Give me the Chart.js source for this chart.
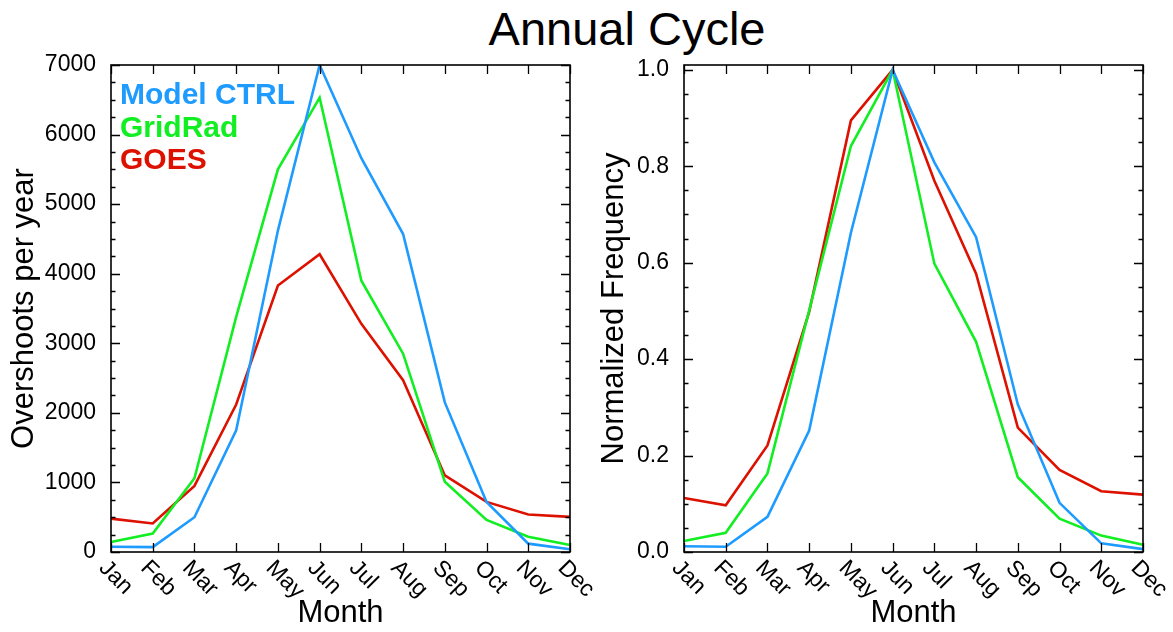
<!DOCTYPE html>
<html>
<head>
<meta charset="utf-8">
<script src="https://cdn.jsdelivr.net/npm/chart.js@4.4.1/dist/chart.umd.min.js"></script>
<style>
  body { margin: 0; background: #fff; width: 1173px; height: 632px; overflow: hidden; position: relative; font-family: "Liberation Sans", Arial, Helvetica, sans-serif; }
  #title { position: absolute; left: 427px; width: 400px; top: 4px; line-height: 50px; text-align: center; font-size: 47px; color: #000; }
  canvas { position: absolute; top: 0; }
  #left { left: 0; }
  #right { left: 590px; }
</style>
</head>
<body>
<div id="title">Annual Cycle</div>
<canvas id="left" width="600" height="632"></canvas>
<canvas id="right" width="583" height="632"></canvas>
<script>
// ==== datos ====
const months = ["Jan", "Feb", "Mar", "Apr", "May", "Jun", "Jul", "Aug", "Sep", "Oct", "Nov", "Dec"];
const seriesNames = ["Model CTRL", "GridRad", "GOES"];

// overshoots per year
const ctrlCounts    = [75, 70, 500, 1750, 4620, 7000, 5660, 4570, 2150, 720, 120, 40];
const gridradCounts = [145, 265, 1060, 3380, 5500, 6530, 3900, 2850, 1010, 460, 220, 100];
const goesCounts    = [480, 410, 950, 2120, 3830, 4280, 3280, 2470, 1100, 720, 540, 505];

// normalized frequency
const ctrlNorm    = [0.012, 0.011, 0.073, 0.252, 0.662, 1.0, 0.808, 0.653, 0.306, 0.102, 0.018, 0.006];
const gridradNorm = [0.023, 0.040, 0.163, 0.501, 0.842, 1.0, 0.598, 0.436, 0.155, 0.069, 0.034, 0.015];
const goesNorm    = [0.112, 0.097, 0.221, 0.498, 0.895, 1.0, 0.770, 0.577, 0.258, 0.170, 0.126, 0.119];

// ejes: min, max, ultimo tick, paso mayor, paso menor
const countAxis = [0, 7000, 7000, 1000, 250];
const normAxis  = [0, 1.01, 1.0, 0.2, 0.05];

const colors = ["#1e9bff", "#11ee22", "#dd1100"];
const FONT = '"Liberation Sans", Arial, Helvetica, sans-serif';

function onStep(v, step) {
  const r = v / step;
  return Math.abs(r - Math.round(r)) < 1e-6;
}

/* ==== marco, ticks internos, etiquetas de meses y leyenda ==== */
const framePlugin = {
  id: "frame",
  afterDraw(chart, args, opts) {
    const { ctx, chartArea: a, scales: { x, y } } = chart;
    ctx.save();
    ctx.strokeStyle = "#000";
    ctx.lineWidth = 1.6;
    ctx.strokeRect(a.left, a.top, a.right - a.left, a.bottom - a.top);

    // ticks del eje y (a ambos lados, hacia adentro)
    ctx.lineWidth = 1.3;
    ctx.beginPath();
    y.ticks.forEach(t => {
      const py = Math.round(y.getPixelForValue(t.value)) + 0.5;
      const len = onStep(t.value, opts.major) ? 9 : 4.5;
      ctx.moveTo(a.left, py); ctx.lineTo(a.left + len, py);
      ctx.moveTo(a.right, py); ctx.lineTo(a.right - len, py);
    });
    // ticks del eje x (arriba y abajo)
    months.forEach((m, i) => {
      const px = Math.round(x.getPixelForValue(i)) + 0.5;
      ctx.moveTo(px, a.bottom); ctx.lineTo(px, a.bottom - 9);
      ctx.moveTo(px, a.top); ctx.lineTo(px, a.top + 9);
    });
    ctx.stroke();

    // etiquetas de meses giradas 45 grados
    ctx.fillStyle = "#000";
    ctx.font = "23px " + FONT;
    ctx.textAlign = "left";
    ctx.textBaseline = "alphabetic";
    months.forEach((m, i) => {
      const px = x.getPixelForValue(i);
      ctx.save();
      ctx.translate(px - 13, a.bottom + 17);
      ctx.rotate(Math.PI / 4);
      ctx.fillText(m, 0, 0);
      ctx.restore();
    });

    // leyenda en texto de color
    if (opts.legend) {
      ctx.font = "bold 30px " + FONT;
      chart.data.datasets.forEach((ds, i) => {
        ctx.fillStyle = ds.borderColor;
        ctx.fillText(ds.label, a.left + 9, a.top + 39 + i * 32.5);
      });
    }
    ctx.restore();
  }
};

function makeDatasets(values) {
  return values.map((vals, i) => ({
    label: seriesNames[i],
    data: vals,
    borderColor: colors[i],
    backgroundColor: colors[i],
    borderWidth: 2.6,
    pointRadius: 0,
    tension: 0,
    fill: false
  }));
}

function makeChart(id, values, axis, yTitle, yWidth, labelFmt, legend) {
  const [min, max, last, major, minor] = axis;
  return new Chart(document.getElementById(id), {
    type: "line",
    data: { labels: months, datasets: makeDatasets(values) },
    plugins: [framePlugin],
    options: {
      responsive: false,
      animation: false,
      layout: { padding: { top: 65, right: 30, left: 0, bottom: 0 } },
      plugins: {
        legend: { display: false },
        tooltip: { enabled: false },
        frame: { major: major, minor: minor, legend: legend }
      },
      scales: {
        x: {
          type: "category",
          offset: false,
          grid: { display: false },
          border: { display: false },
          ticks: { display: false },
          title: { display: true, text: "Month", color: "#000", font: { family: FONT, size: 31 }, padding: { top: 0, bottom: 0 } },
          afterFit: s => { s.height = 80; }
        },
        y: {
          min: min,
          max: max,
          grid: { display: false },
          border: { display: false },
          ticks: {
            autoSkip: false,
            padding: 7,
            color: "#000",
            font: { family: FONT, size: 23 },
            callback: v => onStep(v, major) ? labelFmt(v) : ""
          },
          afterBuildTicks: s => {
            const n = Math.round((last - min) / minor);
            const t = [];
            for (let k = 0; k <= n; k++) t.push({ value: min + k * minor });
            s.ticks = t;
          },
          title: { display: true, text: yTitle, color: "#000", font: { family: FONT, size: 31 }, padding: { top: 6, bottom: 0 } },
          afterFit: s => { s.width = yWidth; }
        }
      }
    }
  });
}

makeChart("left", [ctrlCounts, gridradCounts, goesCounts], countAxis,
  "Overshoots per year", 111, v => String(Math.round(v)), true);
makeChart("right", [ctrlNorm, gridradNorm, goesNorm], normAxis,
  "Normalized Frequency", 94, v => v.toFixed(1), false);
</script>
</body>
</html>
